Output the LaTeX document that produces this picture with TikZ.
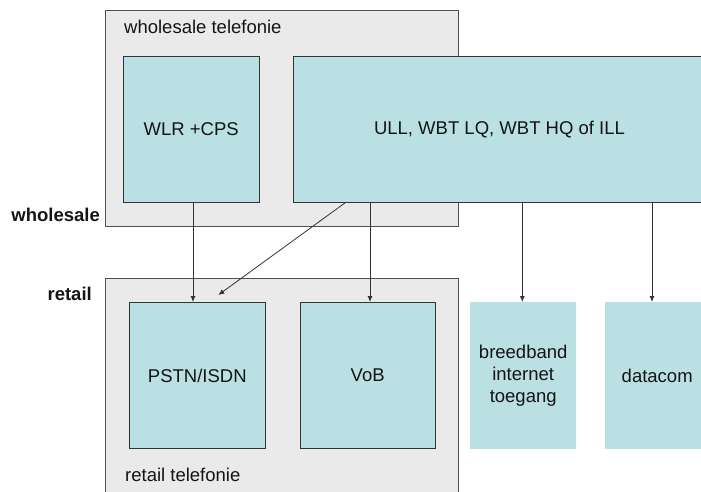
\documentclass[tikz,border=0pt]{standalone}
\usepackage{fontspec}
\setmainfont{Liberation Sans}
\usetikzlibrary{arrows.meta}
\definecolor{boxcyan}{RGB}{187,224,227}
\definecolor{boxgray}{RGB}{234,234,234}
\definecolor{edgegray}{RGB}{80,80,80}
\begin{document}
\begin{tikzpicture}[x=1pt,y=-1pt,
  txt/.style={font=\fontsize{18.5}{22}\selectfont, text=black!92},
  group/.style={draw=edgegray, line width=1pt, fill=boxgray, anchor=north west, inner sep=0pt},
  cbox/.style={draw=black!80, line width=0.9pt, fill=boxcyan, anchor=north west, inner sep=0pt, txt, align=center},
  nbox/.style={fill=boxcyan, anchor=north west, inner sep=0pt, txt, align=center},
  arr/.style={draw=black!80, line width=0.8pt, -{Latex[length=6pt,width=5pt]}},
  plain/.style={txt, inner sep=0pt},
  side/.style={txt, inner sep=0pt, font=\fontsize{18.5}{22}\selectfont\bfseries, anchor=east}]
\useasboundingbox (0,0) rectangle (701,491);
\clip (0,0) rectangle (701,491);
% group boxes
\node[group, minimum width=353pt, minimum height=216.5pt] (wg) at (105,9.5) {};
\node[group, minimum width=353pt, minimum height=230pt] (rg) at (105,278.3) {};
\node[plain, anchor=west] (wgl) at (124,27) {wholesale telefonie};
\node[plain, anchor=west] (rgl) at (125,475) {retail telefonie};
% side labels
\node[side] (lw) at (100,215) {wholesale};
\node[side] (lr) at (92,294) {retail};
% inner boxes
\node[cbox, minimum width=135.5pt, minimum height=146pt] (wlr) at (123,56) {WLR +CPS};
\node[cbox, minimum width=412pt, minimum height=146pt] (ull) at (293,56) {ULL, WBT LQ, WBT HQ of ILL};
\node[cbox, minimum width=135.7pt, minimum height=146.3pt] (pstn) at (129,302) {PSTN/ISDN};
\node[cbox, minimum width=135pt, minimum height=146.3pt] (vob) at (299.7,302) {VoB};
\node[nbox, minimum width=106pt, minimum height=147pt] (bb) at (470,302) {breedband\\internet\\toegang};
\node[nbox, minimum width=104pt, minimum height=147pt] (dc) at (605,302) {datacom};
% connectors
\coordinate (dend) at (218.3,295);
\draw[arr] (wlr.south -| 193,0) -- (pstn.north -| 193,0);
\draw[arr] (ull.south -| 345,0) -- (dend);
\draw[arr] (ull.south -| 370,0) -- (vob.north -| 370,0);
\draw[arr] (ull.south -| 522.3,0) -- (bb.north -| 522.3,0);
\draw[arr] (ull.south -| 652,0) -- (dc.north -| 652,0);
\end{tikzpicture}
\end{document}
